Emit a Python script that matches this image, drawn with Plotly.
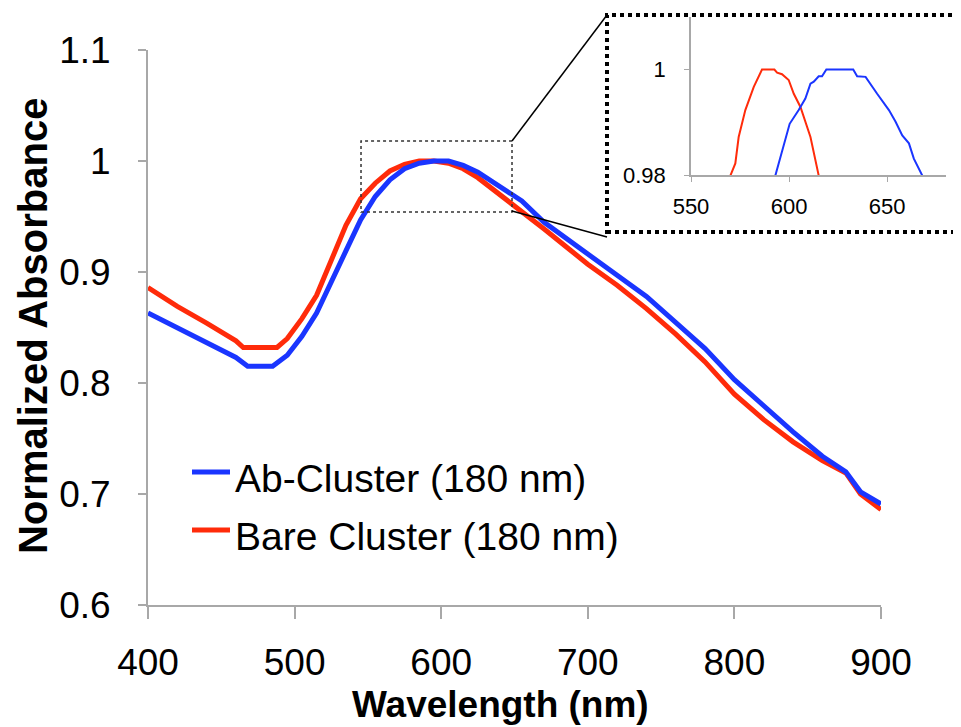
import plotly.graph_objects as go

# ---------------- data ----------------
wl_ab = [400, 420, 440, 460, 468, 485, 495, 505, 515, 525, 535, 545, 555, 565, 575, 585,
         595, 605, 615, 625, 640, 655, 670, 685, 700, 720, 740, 760, 780, 800, 820, 840,
         860, 876, 886, 900]
abs_ab = [0.863, 0.850, 0.837, 0.823, 0.815, 0.815, 0.825, 0.842, 0.863, 0.890, 0.919, 0.947,
          0.968, 0.983, 0.993, 0.998, 1.000, 1.000, 0.996, 0.990, 0.977, 0.964, 0.945, 0.931,
          0.916, 0.897, 0.878, 0.854, 0.831, 0.803, 0.779, 0.756, 0.734, 0.720, 0.702, 0.691]

wl_bare = [400, 420, 440, 460, 465, 488, 495, 505, 515, 525, 535, 545, 555, 565, 575, 585,
           595, 605, 615, 625, 640, 655, 670, 685, 700, 720, 740, 760, 780, 800, 820, 840,
           860, 876, 886, 900]
abs_bare = [0.886, 0.869, 0.854, 0.838, 0.832, 0.832, 0.840, 0.858, 0.879, 0.912, 0.942, 0.966,
            0.980, 0.991, 0.997, 1.000, 1.000, 0.998, 0.993, 0.985, 0.970, 0.955, 0.939, 0.923,
            0.907, 0.888, 0.867, 0.844, 0.819, 0.790, 0.767, 0.747, 0.730, 0.719, 0.700, 0.686]

# inset (zoom of the peak)
inset_wl_bare = [570.1, 572.6, 574.3, 577.7, 582.0, 586.2, 592.5, 593.9, 596.4, 599.8, 602.4,
                 605.8, 610.9, 615.1]
inset_abs_bare = [0.9799, 0.9822, 0.9872, 0.9923, 0.9967, 1.0, 1.0, 0.9994, 0.9991, 0.998,
                  0.9954, 0.9929, 0.9872, 0.9799]
inset_wl_ab = [593.0, 596.4, 600.3, 604.9, 608.3, 610.9, 612.6, 615.1, 616.8, 619.0, 632.7,
               634.7, 639.0, 644.9, 648.3, 650.9, 654.3, 657.7, 661.1, 663.6, 667.9]
inset_abs_ab = [0.9799, 0.9847, 0.9897, 0.9923, 0.9945, 0.9973, 0.9977, 0.9987, 0.9987, 1.0,
                1.0, 0.9987, 0.9986, 0.9954, 0.9935, 0.9923, 0.9901, 0.9875, 0.9860, 0.9831,
                0.9799]

series_names = ["Ab-Cluster (180 nm)", "Bare Cluster (180 nm)"]
x_ticks = [400, 500, 600, 700, 800, 900]
y_ticks = [0.6, 0.7, 0.8, 0.9, 1.0, 1.1]
y_ticktext = ["0.6", "0.7", "0.8", "0.9", "1", "1.1"]
inset_x_ticks = [550, 600, 650]
inset_y_ticks = [0.98, 1.0]
inset_y_ticktext = ["0.98", "1"]
zoom_box = dict(x0=545.3, x1=648.3, y0=0.954, y1=1.018)

BLUE = "#1a35ff"
RED = "#ff2b0a"
GRAY = "#a8a8a8"
FONT = "Liberation Sans, Arial, Helvetica, sans-serif"

W, H = 961, 727
OFF = 8  # page body margin offset


def px(x):
    return (x - OFF) / W


def py(y):
    return 1 - (y - OFF) / H


fig = go.Figure()
fig.add_trace(go.Scatter(x=wl_bare, y=abs_bare, mode="lines", name=series_names[1],
                         line=dict(color=RED, width=5), showlegend=False))
fig.add_trace(go.Scatter(x=wl_ab, y=abs_ab, mode="lines", name=series_names[0],
                         line=dict(color=BLUE, width=5), showlegend=False))
fig.add_trace(go.Scatter(x=inset_wl_bare, y=inset_abs_bare, mode="lines", xaxis="x2", yaxis="y2",
                         line=dict(color=RED, width=2), showlegend=False))
fig.add_trace(go.Scatter(x=inset_wl_ab, y=inset_abs_ab, mode="lines", xaxis="x2", yaxis="y2",
                         line=dict(color=BLUE, width=2), showlegend=False))

axis_common = dict(showgrid=False, zeroline=False, showline=True, linecolor=GRAY,
                   ticks="outside", tickcolor=GRAY, automargin=False)

fig.update_layout(
    template="none",
    width=W, height=H,
    margin=dict(l=0, r=0, t=0, b=0, pad=0, autoexpand=False),
    paper_bgcolor="white", plot_bgcolor="rgba(0,0,0,0)",
    font=dict(family=FONT, color="black"),
    showlegend=False,
    xaxis=dict(domain=[px(148), px(881)], range=[400, 900], tickvals=x_ticks,
               ticklen=12, tickwidth=2, linewidth=2, tickfont=dict(size=37),
               ticklabelstandoff=12, anchor="y", **axis_common),
    yaxis=dict(domain=[py(605), py(50)], range=[0.6, 1.1], tickvals=y_ticks,
               ticktext=y_ticktext, ticklen=8, tickwidth=2, linewidth=2,
               tickfont=dict(size=37), ticklabelstandoff=20, anchor="x", **axis_common),
    xaxis2=dict(domain=[px(691), px(946)], range=[550, 680], tickvals=inset_x_ticks,
                ticklen=5, tickwidth=1, linewidth=1.5, tickfont=dict(size=22),
                ticklabelstandoff=6, anchor="y2", **axis_common),
    yaxis2=dict(domain=[py(175), py(16.7)], range=[0.98, 1.01], tickvals=inset_y_ticks,
                ticktext=inset_y_ticktext, ticklen=5, tickwidth=1, linewidth=1.5,
                tickfont=dict(size=22), ticklabelstandoff=14, anchor="x2", **axis_common),
)

shapes = [
    # zoom box on the main chart
    dict(type="rect", xref="x", yref="y", line=dict(color="#333333", width=1.5, dash="dot"),
         **zoom_box),
    # inset frame
    dict(type="rect", xref="paper", yref="paper", x0=px(607), x1=px(959), y0=py(232), y1=py(15),
         line=dict(color="black", width=4, dash="dot")),
    # connector lines
    dict(type="line", xref="paper", yref="paper", x0=px(512), y0=py(141), x1=px(607), y1=py(15),
         line=dict(color="black", width=1.5)),
    dict(type="line", xref="paper", yref="paper", x0=px(512), y0=py(211), x1=px(607), y1=py(237),
         line=dict(color="black", width=1.5)),
    # legend samples
    dict(type="line", xref="paper", yref="paper", x0=px(192), x1=px(230), y0=py(472), y1=py(472),
         line=dict(color=BLUE, width=5)),
    dict(type="line", xref="paper", yref="paper", x0=px(192), x1=px(230), y0=py(530), y1=py(530),
         line=dict(color=RED, width=5)),
]
fig.update_layout(shapes=shapes)

annotations = [
    dict(text=series_names[0], xref="paper", yref="paper", x=px(233), y=py(478),
         xanchor="left", yanchor="middle", showarrow=False, font=dict(size=39)),
    dict(text=series_names[1], xref="paper", yref="paper", x=px(233), y=py(536),
         xanchor="left", yanchor="middle", showarrow=False, font=dict(size=39)),
    dict(text="<b>Wavelength (nm)</b>", xref="paper", yref="paper", x=px(501), y=py(704),
         xanchor="center", yanchor="middle", showarrow=False, font=dict(size=37)),
    dict(text="<b>Normalized Absorbance</b>", xref="paper", yref="paper", x=px(33), y=py(326),
         xanchor="center", yanchor="middle", showarrow=False, textangle=-90,
         font=dict(size=40)),
]
fig.update_layout(annotations=annotations)

fig.write_html("out.html")
